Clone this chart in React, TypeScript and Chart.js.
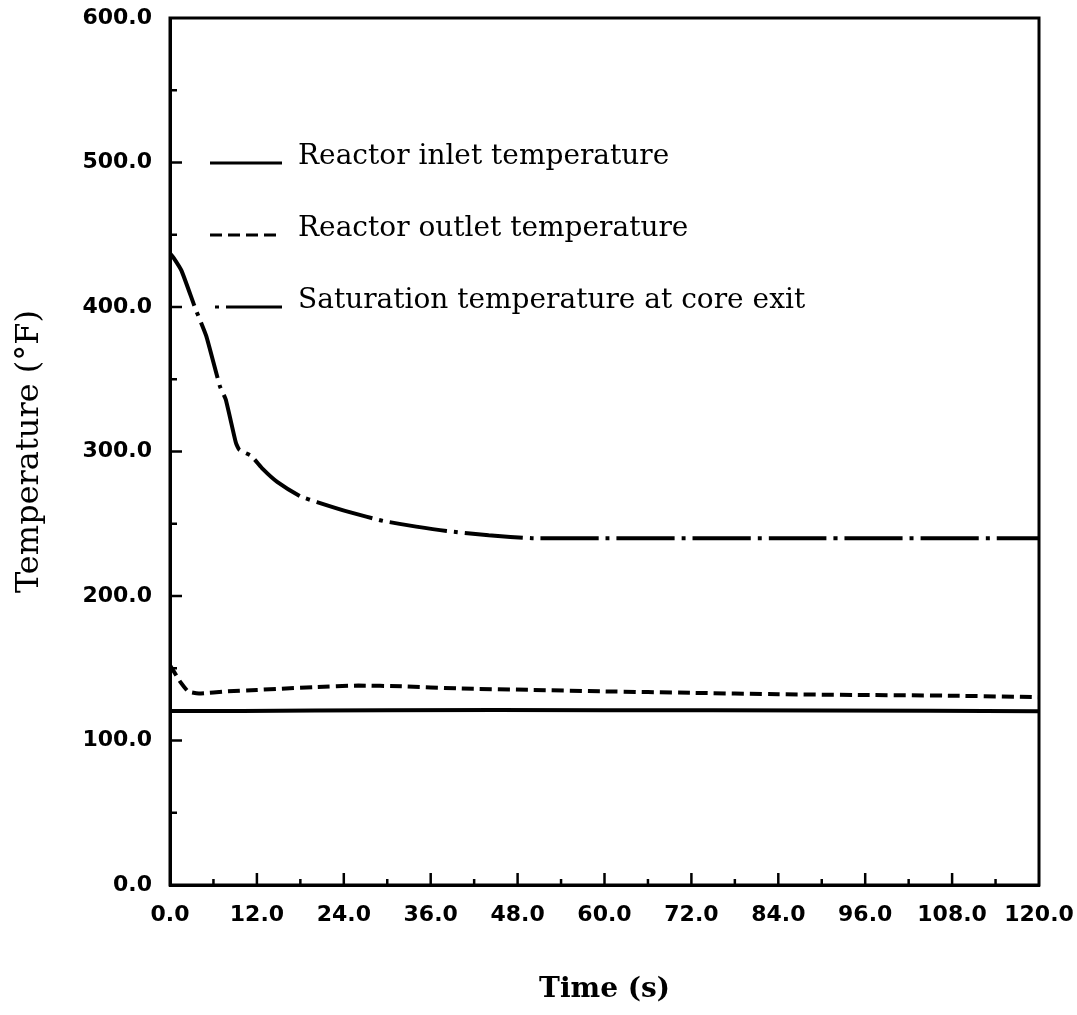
import React, { useEffect, useRef } from "react";
import { Chart, registerables } from "chart.js";

Chart.register(...registerables);

// ---- data ----
const inletTime = [0, 10, 30, 60, 90, 120];
const inletTemp = [120.5, 120.5, 121, 121, 120.7, 120.3];

const outletTime = [0, 0.5, 1.5, 2.5, 4, 8, 12, 20, 26, 32, 40, 50, 60, 72, 84, 96, 108, 120];
const outletTemp = [152, 148, 140, 134, 132.5, 134, 135, 137, 138, 137.5, 136, 135, 134, 133, 132, 131.5, 131, 130];

const satTime = [0, 0.5, 1.6, 3.5, 5, 6.9, 7.7, 9.1, 9.6, 11.2, 12.8, 14.8, 18, 20.3, 24.8, 29.4, 34, 38.2, 44, 50, 60, 90, 120];
const satTemp = [437, 434, 425, 399, 380, 345, 336, 306, 301, 297, 288, 279, 269, 265, 258, 252, 248, 245, 242, 240, 240, 240, 240];

const seriesNames = [
  "Reactor inlet temperature",
  "Reactor outlet temperature",
  "Saturation temperature at core exit",
];
const xTitle = "Time (s)";
const yTitle = "Temperature (\u00B0F)";

const toPts = (xs: number[], ys: number[]) => xs.map((x, i) => ({ x, y: ys[i] }));

const DASHED = [12, 6];
const DASHDOT = [58, 7, 4, 7];
const dashes = [[], DASHED, DASHDOT];

const framePlugin = {
  id: "frame",
  afterDatasetsDraw(chart: any) {
    const { ctx, chartArea: a, scales } = chart;
    ctx.save();
    ctx.strokeStyle = "#000";
    ctx.lineWidth = 3;
    ctx.setLineDash([]);
    ctx.strokeRect(a.left, a.top, a.right - a.left, a.bottom - a.top);
    ctx.lineWidth = 2.5;
    // x tick marks (inward)
    scales.x.ticks.forEach((t: any) => {
      if (t.value <= 0 || t.value >= 120) return;
      const px = scales.x.getPixelForValue(t.value);
      const len = t.value % 12 === 0 ? 12 : 6;
      ctx.beginPath();
      ctx.moveTo(px, a.bottom);
      ctx.lineTo(px, a.bottom - len);
      ctx.stroke();
    });
    // y tick marks (inward)
    scales.y.ticks.forEach((t: any) => {
      if (t.value <= 0 || t.value >= 600) return;
      const py = scales.y.getPixelForValue(t.value);
      const len = t.value % 100 === 0 ? 12 : 7;
      ctx.beginPath();
      ctx.moveTo(a.left, py);
      ctx.lineTo(a.left + len, py);
      ctx.stroke();
    });
    // legend
    const rows = [145, 217, 289];
    ctx.font = "28px 'DejaVu Serif'";
    ctx.fillStyle = "#000";
    ctx.textBaseline = "middle";
    ctx.textAlign = "left";
    rows.forEach((r, i) => {
      const y = a.top + r;
      ctx.lineWidth = 3;
      ctx.setLineDash(dashes[i]);
      ctx.lineDashOffset = i === 2 ? 60 : 0;
      ctx.beginPath();
      ctx.moveTo(a.left + 40, y);
      ctx.lineTo(a.left + 112, y);
      ctx.stroke();
      ctx.setLineDash([]);
      ctx.fillText(seriesNames[i], a.left + 128, y - 6);
    });
    ctx.restore();
  },
};

export default function App() {
  const ref = useRef<HTMLCanvasElement>(null);
  useEffect(() => {
    if (!ref.current) return;
    const tickFont = { family: "'DejaVu Sans'", size: 22, weight: "bold" as const };
    const chart = new Chart(ref.current, {
      type: "line",
      data: {
        datasets: [
          { label: seriesNames[0], data: toPts(inletTime, inletTemp), borderDash: [] },
          { label: seriesNames[1], data: toPts(outletTime, outletTemp), borderDash: DASHED },
          { label: seriesNames[2], data: toPts(satTime, satTemp), borderDash: DASHDOT },
        ].map((d) => ({
          ...d,
          borderColor: "#000",
          backgroundColor: "#000",
          borderWidth: 4,
          pointRadius: 0,
          tension: 0.15,
          fill: false,
        })),
      },
      options: {
        responsive: false,
        animation: false,
        layout: { padding: { top: 18, right: 38, left: 0, bottom: 0 } },
        plugins: { legend: { display: false }, tooltip: { enabled: false } },
        scales: {
          x: {
            type: "linear",
            min: 0,
            max: 120,
            afterFit: (s: any) => {
              s.height = 130;
              s.paddingLeft = 0;
              s.paddingRight = 0;
            },
            grid: { display: false, drawTicks: false },
            border: { display: true, color: "#000", width: 3 },
            ticks: {
              stepSize: 6,
              autoSkip: false,
              maxRotation: 0,
              padding: 17,
              color: "#000",
              font: tickFont,
              callback: (v: any) => (Number(v) % 12 === 0 ? Number(v).toFixed(1) : ""),
            },
            title: {
              display: true,
              text: xTitle,
              color: "#000",
              font: { family: "'DejaVu Serif'", size: 28, weight: "bold" },
              padding: { top: 0, bottom: 8 },
            },
          },
          y: {
            type: "linear",
            min: 0,
            max: 600,
            afterFit: (s: any) => {
              s.width = 170;
              s.paddingTop = 0;
              s.paddingBottom = 0;
            },
            grid: { display: false, drawTicks: false },
            border: { display: true, color: "#000", width: 3 },
            ticks: {
              stepSize: 50,
              autoSkip: false,
              padding: 18,
              color: "#000",
              font: tickFont,
              callback: (v: any) => (Number(v) % 100 === 0 ? Number(v).toFixed(1) : ""),
            },
            title: {
              display: true,
              text: yTitle,
              color: "#000",
              font: { family: "'DejaVu Serif'", size: 32 },
              padding: { top: 10, bottom: 0 },
            },
          },
        },
      },
      plugins: [framePlugin],
    });
    return () => chart.destroy();
  }, []);
  return (
    <div style={{ position: "fixed", left: 0, top: 0, width: 1077, height: 1015, background: "#fff" }}>
      <canvas ref={ref} width={1077} height={1015} style={{ display: "block" }} />
    </div>
  );
}
